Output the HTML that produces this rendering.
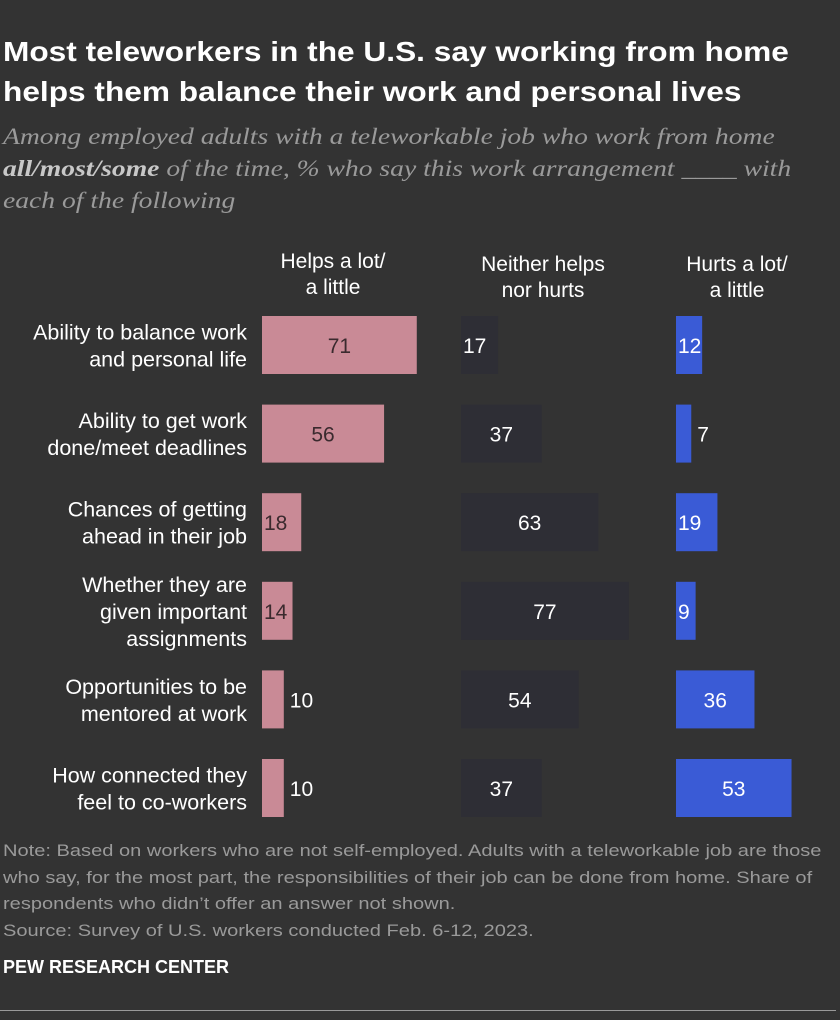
<!DOCTYPE html>
<html><head><meta charset="utf-8"><style>
body{margin:0;background:#333333;width:840px;height:1020px;overflow:hidden;font-family:"Liberation Sans",sans-serif;position:relative}
.t{position:absolute;white-space:nowrap;transform-origin:0 0}
#title{left:3px;top:32px;font-size:28px;font-weight:bold;color:#fff;line-height:40px;transform:scaleX(1.13)}
#sub{left:3px;top:121px;font-family:"Liberation Serif",serif;font-style:italic;font-size:23px;color:#9a9a9a;line-height:32px;transform:scaleX(1.2)}
#sub b{color:#c8c8c8}
.hdr{font-size:21px;color:#fff;text-align:center;line-height:26px}
.note{left:3px;font-size:17px;color:#9a9a9a;line-height:26.5px;transform:scaleX(1.18)}
</style></head><body>
<div class="t" id="title">Most teleworkers in the U.S. say working from home<br>helps them balance their work and personal lives</div>
<div class="t" id="sub">Among employed adults with a teleworkable job who work from home<br><b>all/most/some</b> of the time, % who say this work arrangement ____ with<br>each of the following</div>
<div class="t hdr" style="left:258px;top:249px;width:150px">Helps a lot/<br>a little</div>
<div class="t hdr" style="left:458px;top:252px;width:170px">Neither helps<br>nor hurts</div>
<div class="t hdr" style="left:662px;top:252px;width:150px">Hurts a lot/<br>a little</div>
<svg id="chart" width="840" height="1020" style="position:absolute;left:0;top:0"></svg>
<div class="t note" style="top:838px">Note: Based on workers who are not self-employed. Adults with a teleworkable job are those<br>who say, for the most part, the responsibilities of their job can be done from home. Share of<br>respondents who didn’t offer an answer not shown.<br>Source: Survey of U.S. workers conducted Feb. 6-12, 2023.</div>
<div class="t" style="left:3px;top:957px;font-size:18px;font-weight:bold;color:#fff;transform:scaleX(1.0)">PEW RESEARCH CENTER</div>
<div style="position:absolute;left:0;top:1010px;width:836px;height:1px;background:#999"></div>
<script>
const categories=["Ability to balance work|and personal life","Ability to get work|done/meet deadlines","Chances of getting|ahead in their job","Whether they are|given important|assignments","Opportunities to be|mentored at work","How connected they|feel to co-workers"];
const helps=[71,56,18,14,10,10];
const neither=[17,37,63,77,54,37];
const hurts=[12,7,19,9,36,53];
const NS="http://www.w3.org/2000/svg";
const svg=document.getElementById('chart');
const scale=v=>v*2.18;
const rowY=i=>345+i*88.6;
const BH=58;
const series=[
 {vals:helps,x0:262,fill:"#c98a96",txt:"#3a2a2e",minIn:14,name:"helps"},
 {vals:neither,x0:461,fill:"#2e2e35",txt:"#ffffff",minIn:12,name:"neither"},
 {vals:hurts,x0:676,fill:"#3a5bd6",txt:"#ffffff",minIn:9,name:"hurts"}];
function mk(tag,attrs){const e=document.createElementNS(NS,tag);for(const k in attrs)e.setAttribute(k,attrs[k]);svg.appendChild(e);return e;}
categories.forEach((c,i)=>{
 const lines=c.split("|");const cy=rowY(i);
 const t=mk("text",{x:247,"text-anchor":"end","font-size":21.5,fill:"#fff","font-family":"Liberation Sans, sans-serif"});
 
 
 lines.forEach((l,j)=>{const ts=document.createElementNS(NS,"tspan");ts.setAttribute("x",247);ts.setAttribute("y",cy+8+(j-(lines.length-1)/2)*27);ts.textContent=l;t.appendChild(ts);});
 series.forEach(s=>{
  const v=s.vals[i],w=scale(v);
  const r=mk("rect",{x:s.x0,y:cy-BH/2,width:w,height:BH,fill:s.fill});
  
  
  let x,anchor="middle",col=s.txt;
  if(w>50){x=s.x0+w/2;}
  else if(v>=s.minIn){x=s.x0+2;anchor="start";}
  else{x=s.x0+w+6;anchor="start";col="#fff";}
  const lt=mk("text",{x:x,y:cy+8,"text-anchor":anchor,"font-size":21,fill:col,"font-family":"Liberation Sans, sans-serif"});
  
  
  lt.textContent=v;
 });
});
</script>
</body></html>
